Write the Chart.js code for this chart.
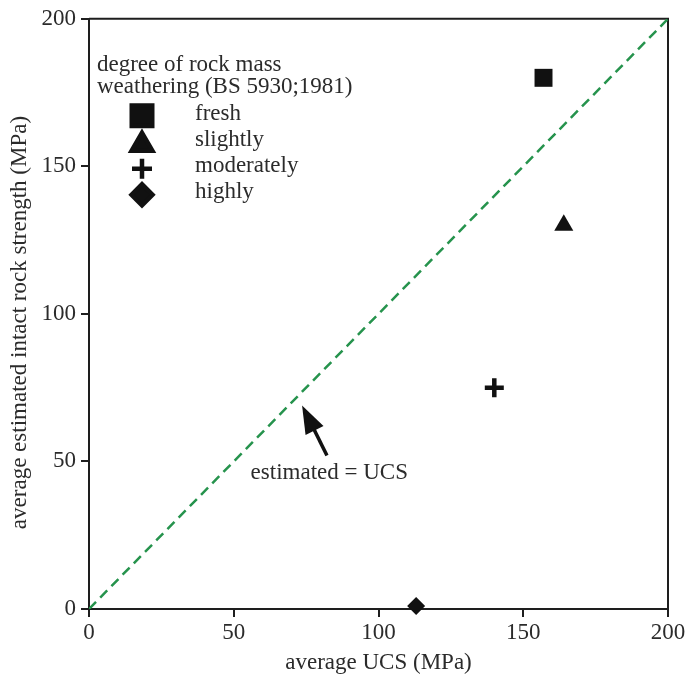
<!DOCTYPE html>
<html>
<head>
<meta charset="utf-8">
<script src="https://cdn.jsdelivr.net/npm/chart.js@4/dist/chart.umd.min.js"></script>
<style>
  html, body { margin: 0; padding: 0; background: #fff; }
  #wrap { width: 694px; height: 677px; }
</style>
</head>
<body>
<div id="wrap"><canvas id="c" width="694" height="677"></canvas></div>
<script>
// ---- data ----
const categories = ['fresh', 'slightly', 'moderately', 'highly'];
const ucsValues = [157, 164, 140, 113];        // average UCS (MPa)
const estimatedValues = [180, 130, 75, 1];      // average estimated intact rock strength (MPa)
const pointStyles = ['rect', 'triangle', 'cross', 'rectRot'];
const equalityLineX = [0, 200];
const equalityLineY = [0, 200];
const tickValues = [0, 50, 100, 150, 200];
const legendTitle = ['degree of rock mass', 'weathering (BS 5930;1981)'];
const annotationText = 'estimated = UCS';
// annotation anchor points in data units
const arrowTip = [73.6, 69.0];
const arrowTail = [82.2, 52.0];
const annotationLabelPos = [83.0, 46.2];

const FONT = "'Liberation Serif', 'Times New Roman', serif";
const TEXT = '#2b2b2b';
const AXIS = '#1e1e1e';
const GREEN = '#26934d';

const dataRadius = [12.7, 11, 9.5, 9];
const legendRadius = [14.5, 12, 10, 10.5];

const datasets = categories.map((c, i) => ({
  type: 'scatter',
  label: c,
  data: [{ x: ucsValues[i], y: estimatedValues[i] }],
  pointStyle: pointStyles[i],
  pointRadius: dataRadius[i],
  pointHoverRadius: dataRadius[i],
  backgroundColor: '#111',
  borderColor: '#111',
  borderWidth: pointStyles[i] === 'cross' ? 4.5 : 0,
  clip: false
}));
datasets.push({
  type: 'line',
  label: 'estimated = UCS',
  data: equalityLineX.map((x, i) => ({ x, y: equalityLineY[i] })),
  borderColor: GREEN,
  borderWidth: 2.5,
  borderDash: [10, 6],
  pointRadius: 0,
  fill: false
});

const overlay = {
  id: 'overlay',
  beforeDatasetsDraw(chart) {
    const { ctx, chartArea: a } = chart;
    ctx.save();
    ctx.strokeStyle = AXIS;
    ctx.lineWidth = 2;
    ctx.beginPath();
    ctx.moveTo(a.left, a.top);
    ctx.lineTo(a.right, a.top);
    ctx.lineTo(a.right, a.bottom);
    ctx.stroke();
    ctx.restore();
  },
  afterDatasetsDraw(chart) {
    const { ctx, chartArea: a, scales: { x, y } } = chart;
    ctx.save();
    // legend
    ctx.font = '23px ' + FONT;
    ctx.fillStyle = TEXT;
    ctx.textAlign = 'left';
    ctx.textBaseline = 'alphabetic';
    ctx.fillText(legendTitle[0], a.left + 8, a.top + 52);
    ctx.fillText(legendTitle[1], a.left + 8, a.top + 74);
    const textY = [95, 121, 147, 173].map(v => a.top + v);
    const markY = [97, 126, 150, 176].map(v => a.top + v);
    const markerX = a.left + 53;
    categories.forEach((c, i) => {
      const style = pointStyles[i];
      ctx.fillStyle = '#111';
      ctx.strokeStyle = '#111';
      ctx.lineWidth = style === 'cross' ? 4.5 : 0;
      Chart.helpers.drawPoint(ctx, { pointStyle: style, radius: legendRadius[i], borderWidth: ctx.lineWidth, rotation: 0 }, markerX, markY[i]);
      ctx.fillStyle = TEXT;
      ctx.textBaseline = 'middle';
      ctx.fillText(c, a.left + 106, textY[i]);
    });
    // annotation arrow
    const tx = x.getPixelForValue(arrowTip[0]), ty = y.getPixelForValue(arrowTip[1]);
    const sx = x.getPixelForValue(arrowTail[0]), sy = y.getPixelForValue(arrowTail[1]);
    const ang = Math.atan2(ty - sy, tx - sx);
    const headLen = 28, headHalf = 10;
    const bx = tx - headLen * Math.cos(ang), by = ty - headLen * Math.sin(ang);
    ctx.strokeStyle = '#111';
    ctx.lineWidth = 3.5;
    ctx.beginPath();
    ctx.moveTo(sx, sy);
    ctx.lineTo(bx + 4 * Math.cos(ang), by + 4 * Math.sin(ang));
    ctx.stroke();
    ctx.fillStyle = '#111';
    ctx.beginPath();
    ctx.moveTo(tx, ty);
    ctx.lineTo(bx + headHalf * Math.sin(ang), by - headHalf * Math.cos(ang));
    ctx.lineTo(bx - headHalf * Math.sin(ang), by + headHalf * Math.cos(ang));
    ctx.closePath();
    ctx.fill();
    // annotation label
    ctx.fillStyle = TEXT;
    ctx.font = '23px ' + FONT;
    ctx.textAlign = 'center';
    ctx.textBaseline = 'middle';
    ctx.fillText(annotationText, x.getPixelForValue(annotationLabelPos[0]), y.getPixelForValue(annotationLabelPos[1]));
    ctx.restore();
  }
};

const tickFont = { family: FONT, size: 23 };

new Chart(document.getElementById('c'), {
  type: 'scatter',
  data: { datasets },
  options: {
    responsive: false,
    animation: false,
    devicePixelRatio: 1,
    layout: { padding: { top: 15, right: 26, bottom: 0, left: 0 } },
    plugins: { legend: { display: false }, tooltip: { enabled: false } },
    scales: {
      x: {
        type: 'linear', min: 0, max: 200,
        afterBuildTicks: s => { s.ticks = tickValues.map(v => ({ value: v })); },
        afterFit: s => { s.height = 68; },
        ticks: { font: tickFont, color: TEXT, padding: 2, maxRotation: 0 },
        grid: { drawOnChartArea: false, drawTicks: true, tickLength: 8, color: AXIS, lineWidth: 2 },
        border: { display: true, color: AXIS, width: 2 },
        title: { display: true, text: 'average UCS (MPa)', font: { family: FONT, size: 23 }, color: TEXT, padding: { top: 0, bottom: 0 } }
      },
      y: {
        type: 'linear', min: 0, max: 200,
        afterBuildTicks: s => { s.ticks = tickValues.map(v => ({ value: v })); },
        afterFit: s => { s.width = 89; },
        ticks: { font: tickFont, color: TEXT, padding: 5 },
        grid: { drawOnChartArea: false, drawTicks: true, tickLength: 8, color: AXIS, lineWidth: 2 },
        border: { display: true, color: AXIS, width: 2 },
        title: { display: true, text: 'average estimated intact rock strength (MPa)\u00a0\u00a0\u00a0', font: { family: FONT, size: 23 }, color: TEXT, padding: { top: 6, bottom: 0 } }
      }
    }
  },
  plugins: [overlay]
});
</script>
</body>
</html>
